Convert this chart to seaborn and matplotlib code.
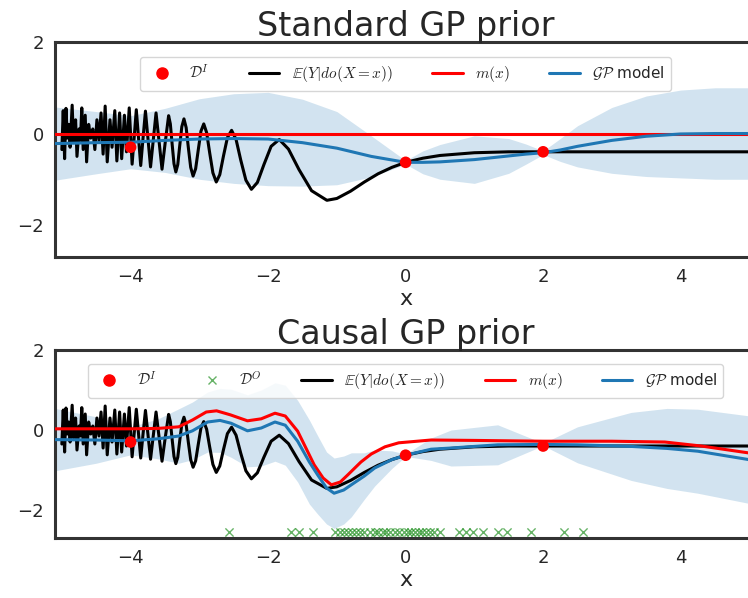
import numpy as np
import pandas as pd
import matplotlib
matplotlib.use("Agg")
import matplotlib.pyplot as plt
import seaborn as sns
from matplotlib.lines import Line2D

# ---------------- data ----------------
# true interventional effect E(Y|do(X=x)) (same curve in both panels)
true_x = [-5.00, -4.98, -4.96, -4.94, -4.92, -4.90, -4.88, -4.85, -4.83, -4.80,
          -4.78, -4.75, -4.73, -4.71, -4.69, -4.66, -4.64, -4.61, -4.58, -4.55,
          -4.52, -4.49, -4.46, -4.43, -4.40, -4.37, -4.34, -4.30, -4.27, -4.23,
          -4.20, -4.16, -4.13, -4.09, -4.06, -4.02, -3.978, -3.917, -3.885, -3.853,
          -3.819, -3.784, -3.747, -3.710, -3.670, -3.630, -3.587, -3.543, -3.496, -3.447,
          -3.422, -3.396, -3.369, -3.342, -3.314, -3.285, -3.255, -3.224, -3.192, -3.160,
          -3.126, -3.091, -3.054, -3.016, -2.977, -2.936, -2.894, -2.850, -2.803, -2.754,
          -2.703, -2.649, -2.592, -2.531, -2.466, -2.398, -2.323, -2.243, -2.156, -2.061,
          -1.956, -1.838, -1.704, -1.550, -1.368, -1.145, -1.0, -0.8, -0.6, -0.4,
          -0.2, 0.0, 0.25, 0.5, 1.0, 1.5, 2.0, 3.0, 5.1]
true_y = [-0.35, 0.50, -0.55, 0.55, -0.10, 0.20, -0.30, 0.62, -0.20, 0.30,
          -0.50, 0.10, -0.15, 0.56, -0.35, 0.40, -0.62, 0.20, -0.10, 0.10,
          -0.35, 0.30, -0.15, 0.45, -0.45, 0.60, -0.62, 0.30, -0.30, 0.50,
          -0.60, 0.45, -0.55, 0.40, -0.40, 0.56, -0.67, 0.52, -0.09, -0.70,
          -0.10, 0.49, -0.12, -0.73, -0.14, 0.45, -0.16, -0.78, -0.19, 0.39,
          0.21, -0.23, -0.66, -0.84, -0.68, -0.26, 0.15, 0.32, 0.13, -0.31,
          -0.74, -0.93, -0.77, -0.36, 0.05, 0.21, 0.02, -0.42, -0.86, -1.06,
          -0.90, -0.49, -0.09, 0.07, -0.13, -0.58, -1.02, -1.22, -1.07, -0.68,
          -0.28, -0.13, -0.34, -0.79, -1.25, -1.46, -1.42, -1.26, -1.06, -0.88,
          -0.74, -0.63, -0.54, -0.48, -0.42, -0.40, -0.40, -0.40, -0.40]

# interventional data D^I
int_x = [-4.0, 0.0, 2.0]
int_y = [-0.30, -0.63, -0.40]

# observational data D^O (x positions of the green crosses)
obs_x = [-2.57, -1.66, -1.55, -1.34, -1.02, -0.95, -0.90, -0.84, -0.78, -0.72,
         -0.66, -0.60, -0.52, -0.45, -0.40, -0.33, -0.28, -0.22, -0.15, -0.10,
         -0.02, 0.03, 0.08, 0.14, 0.19, 0.24, 0.30, 0.36, 0.42, 0.50,
         0.78, 0.88, 0.98, 1.12, 1.35, 1.48, 1.82, 2.30, 2.58]
obs_level = -2.55

# Standard GP prior panel
std_x = [-5.1, -4.5, -4.0, -3.5, -3.0, -2.5, -2.0, -1.5, -1.0, -0.5,
         0.0, 0.25, 0.5, 1.0, 1.5, 1.75, 2.0, 2.25, 2.5, 3.0,
         3.5, 4.0, 4.5, 5.1]
std_prior_mean = [0.0] * 24
std_gp_mean = [-0.22, -0.20, -0.19, -0.15, -0.12, -0.11, -0.12, -0.20, -0.32, -0.50,
               -0.63, -0.63, -0.62, -0.57, -0.49, -0.45, -0.42, -0.36, -0.28, -0.15,
               -0.06, -0.01, 0.0, 0.0]
std_gp_sd = [0.80, 0.68, 0.58, 0.70, 0.88, 0.98, 1.02, 0.95, 0.80, 0.45,
             0.04, 0.25, 0.38, 0.52, 0.38, 0.22, 0.04, 0.25, 0.45, 0.72,
             0.88, 0.96, 1.00, 1.00]

# Causal GP prior panel
cau_mx = [-5.1, -4.5, -4.0, -3.6, -3.3, -3.1, -2.9, -2.75, -2.55, -2.3,
          -2.1, -1.9, -1.75, -1.57, -1.33, -1.2, -1.08, -0.95, -0.84, -0.65,
          -0.5, -0.3, -0.1, 0.37, 1.0, 2.0, 3.0, 3.77, 4.3, 5.1]
cau_prior_mean = [0.03, 0.03, 0.03, 0.04, 0.08, 0.25, 0.45, 0.48, 0.38, 0.23,
                  0.28, 0.42, 0.35, -0.03, -0.87, -1.20, -1.37, -1.30, -1.12, -0.80,
                  -0.60, -0.42, -0.32, -0.25, -0.26, -0.28, -0.28, -0.30, -0.40, -0.60]

cau_gx = [-5.1, -4.5, -4.0, -3.6, -3.3, -3.1, -2.88, -2.7, -2.54, -2.3,
          -2.1, -1.9, -1.75, -1.57, -1.4, -1.28, -1.15, -1.04, -0.9, -0.79,
          -0.6, -0.45, -0.2, 0.0, 0.37, 0.66, 1.34, 2.0, 2.5, 3.28,
          3.8, 4.25, 5.1]
cau_gp_mean = [-0.24, -0.25, -0.27, -0.22, -0.15, -0.02, 0.20, 0.24, 0.17, -0.02,
               0.05, 0.20, 0.12, -0.28, -0.80, -1.12, -1.45, -1.58, -1.50, -1.37,
               -1.15, -0.95, -0.74, -0.63, -0.48, -0.45, -0.37, -0.36, -0.37, -0.41,
               -0.46, -0.53, -0.77]
cau_gp_sd = [0.78, 0.58, 0.35, 0.50, 0.68, 0.72, 0.75, 0.80, 0.85, 0.90,
             0.95, 0.98, 1.00, 1.02, 1.05, 0.98, 0.90, 0.88, 0.85, 0.80,
             0.58, 0.45, 0.22, 0.03, 0.28, 0.45, 0.50, 0.03, 0.45, 0.85,
             1.00, 1.05, 1.10]

x_ticks = [-4, -2, 0, 2, 4]
y_ticks = [-2, 0, 2]

# ---------------- style ----------------
sns.set_style("white")
plt.rcParams["font.family"] = ["DejaVu Sans"]
plt.rcParams["mathtext.fontset"] = "cm"

BLUE = "#1f77b4"
RED = "red"

fig = plt.figure(figsize=(7.48, 5.98), dpi=100)
ax1 = fig.add_axes([0.0735, 0.5702, 0.9375, 0.3595])
ax2 = fig.add_axes([0.0735, 0.1003, 0.9375, 0.3144])

true_df = pd.DataFrame({"x": true_x, "y": true_y})


def draw_panel(ax, gx, gmean, gsd, mx, mmean, title, with_obs):
    gx = np.asarray(gx)
    gmean = np.asarray(gmean)
    gsd = np.asarray(gsd)
    ax.fill_between(gx, gmean - gsd, gmean + gsd, color=BLUE, alpha=0.2, lw=0, zorder=1)
    sns.lineplot(data=true_df, x="x", y="y", ax=ax, color="black", lw=2.2,
                 estimator=None, sort=False, zorder=3)
    sns.lineplot(x=mx, y=mmean, ax=ax, color=RED, lw=2.2, estimator=None, zorder=4)
    sns.lineplot(x=gx, y=gmean, ax=ax, color=BLUE, lw=2.2, estimator=None, zorder=5)
    sns.scatterplot(x=int_x, y=int_y, ax=ax, color=RED, s=70, edgecolor="none", zorder=6)
    if with_obs:
        sns.scatterplot(x=obs_x, y=[obs_level] * len(obs_x), ax=ax, marker="x",
                        color="green", s=35, alpha=0.6, linewidth=1.0, zorder=6)
    ax.set_xlim(-5.1, 5.1)
    ax.set_ylim(-2.7, 2.0)
    ax.set_xticks(x_ticks)
    ax.set_yticks(y_ticks)
    ax.set_xticklabels([f"\u2212{abs(t)}" if t < 0 else str(t) for t in x_ticks])
    ax.set_yticklabels([f"\u2212{abs(t)}" if t < 0 else str(t) for t in y_ticks])
    ax.tick_params(labelsize=13, length=0, pad=8)
    ax.set_xlabel("x", fontsize=16, labelpad=2)
    ax.set_ylabel("")
    ax.set_title(title, fontsize=24, pad=4)
    for sp in ax.spines.values():
        sp.set_color("#333333")
        sp.set_linewidth(2.2)

    handles = [Line2D([], [], marker="o", color=RED, ls="none", ms=8, label=r"$\mathcal{D}^I$")]
    if with_obs:
        handles.append(Line2D([], [], marker="x", color="green", alpha=0.6, ls="none", ms=6,
                              label=r"$\mathcal{D}^O$"))
    handles += [
        Line2D([], [], color="black", lw=2.2, label=r"$\mathbb{E}(Y|do(X=x))$"),
        Line2D([], [], color=RED, lw=2.2, label=r"$m(x)$"),
        Line2D([], [], color=BLUE, lw=2.2, label=r"$\mathcal{GP}$ model"),
    ]
    ax.legend(handles=handles, loc="upper center", ncol=len(handles), fontsize=11,
              frameon=True, columnspacing=2.6, handlelength=2.0,
              bbox_to_anchor=(0.5, 0.965))


draw_panel(ax1, std_x, std_gp_mean, std_gp_sd, std_x, std_prior_mean,
           "Standard GP prior", False)
draw_panel(ax2, cau_gx, cau_gp_mean, cau_gp_sd, cau_mx, cau_prior_mean,
           "Causal GP prior", True)

fig.savefig("out.png", dpi=100)
